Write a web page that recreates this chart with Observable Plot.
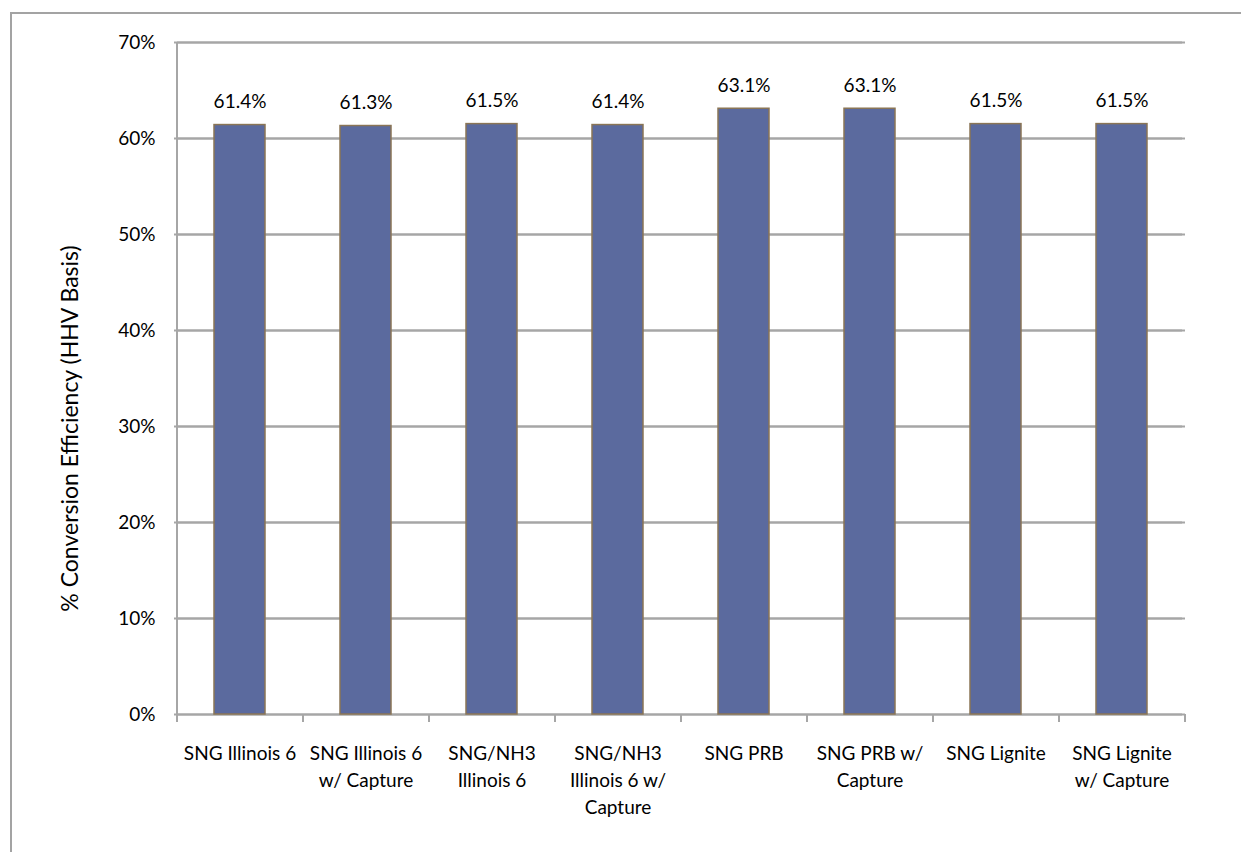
<!DOCTYPE html>
<html>
<head>
<meta charset="utf-8">
<script src="https://cdn.jsdelivr.net/npm/d3@7"></script>
<script src="https://cdn.jsdelivr.net/npm/@observablehq/plot@0.6"></script>
<style>
  html, body { margin: 0; padding: 0; background: #fff; }
  #wrap { position: relative; width: 1241px; height: 852px; overflow: hidden; }
  #frame { position: absolute; left: 10px; top: 12px; width: 1400px; height: 1000px;
           border-left: 2px solid #a3a3a3; border-top: 2px solid #a3a3a3; }
  #chart { position: absolute; left: 0; top: 0; }
</style>
</head>
<body>
<div id="wrap"><div id="frame"></div><div id="chart"></div></div>
<script>
const categories = [
  "SNG Illinois 6", "SNG Illinois 6 w/ Capture", "SNG/NH3 Illinois 6",
  "SNG/NH3 Illinois 6 w/ Capture", "SNG PRB", "SNG PRB w/ Capture",
  "SNG Lignite", "SNG Lignite w/ Capture"
];
const tickLabels = [
  "SNG Illinois 6", "SNG Illinois 6\nw/ Capture", "SNG/NH3\nIllinois 6",
  "SNG/NH3\nIllinois 6 w/\nCapture", "SNG PRB", "SNG PRB w/\nCapture",
  "SNG Lignite", "SNG Lignite\nw/ Capture"
];
const efficiency = [0.614, 0.613, 0.615, 0.614, 0.631, 0.631, 0.615, 0.615];
const yTicks = [0, 0.1, 0.2, 0.3, 0.4, 0.5, 0.6, 0.7];
const yTitle = "% Conversion Efficiency (HHV Basis)";

const data = categories.map((c, i) => ({category: c, value: efficiency[i], label: tickLabels[i]}));
const labelOf = new Map(data.map(d => [d.category, d.label]));

const W = 1241, H = 852, mL = 177, mR = 56, mT = 42, mB = 138;
const step = (W - mL - mR) / categories.length;
const gridColor = "#a6a6a6";
const font = "Lato, 'Open Sans', sans-serif";

const chart = Plot.plot({
  width: W, height: H,
  marginLeft: mL, marginRight: mR, marginTop: mT, marginBottom: mB,
  style: {fontFamily: font, fontSize: "19px", color: "#000", background: "transparent"},
  x: {domain: categories, paddingInner: 0.595, paddingOuter: 0.2975},
  y: {domain: [0, 0.7]},
  marks: [
    Plot.ruleY(yTicks, {stroke: gridColor, strokeWidth: 2}),
    Plot.tickY(yTicks, {stroke: gridColor, strokeWidth: 2, dx: -3}),
    Plot.ruleX([0], {x: () => categories[0], stroke: gridColor, strokeWidth: 2, y1: 0, y2: 0.7, dx: -step/2}),
    Plot.ruleX(categories, {x: d => d, y1: 0, y2: 0, insetBottom: -8, stroke: gridColor, strokeWidth: 2, dx: -step/2}),
    Plot.ruleX([categories[categories.length-1]], {x: d => d, y1: 0, y2: 0, insetBottom: -8, stroke: gridColor, strokeWidth: 2, dx: step/2}),
    Plot.barY(data, {x: "category", y: "value", fill: "#5b6a9e", stroke: "#8a7556", strokeWidth: 1.5}),
    Plot.text(data, {x: "category", y: "value", text: d => d3.format(".1%")(d.value), dy: -23, fontSize: 19, fill: "#000"}),
    Plot.axisY({ticks: yTicks, tickFormat: d3.format(".0%"), tickSize: 0, tickPadding: 22, label: null, fontSize: 19}),
    Plot.axisX({tickSize: 0, tickPadding: 26, tickFormat: d => labelOf.get(d), lineHeight: 1.42, label: null, fontSize: 19}),
    Plot.text([yTitle], {frameAnchor: "left", textAnchor: "middle", rotate: -90, dx: -107, dy: 50, fontSize: 23, fill: "#000"})
  ]
});
document.getElementById("chart").appendChild(chart);
</script>
</body>
</html>
